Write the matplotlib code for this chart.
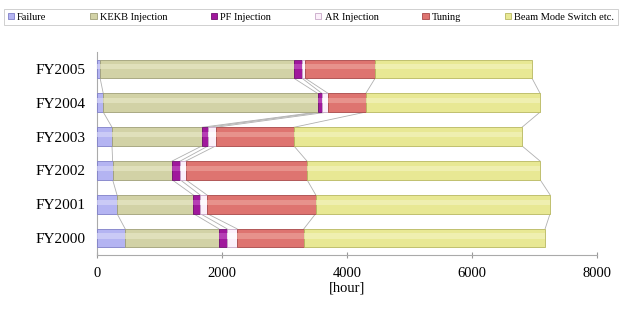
import numpy as np
import matplotlib.pyplot as plt
from matplotlib.patches import Patch

plt.rcParams['font.family'] = ['Liberation Serif', 'DejaVu Serif']

years = ["FY2000", "FY2001", "FY2002", "FY2003", "FY2004", "FY2005"]
series = ["Failure", "KEKB Injection", "PF Injection", "AR Injection", "Tuning", "Beam Mode Switch etc."]

# hours per category
failure = [450, 320, 250, 240, 100, 50]
kekb = [1500, 1220, 950, 1440, 3430, 3100]
pf = [130, 110, 130, 100, 70, 130]
ar = [160, 110, 90, 120, 100, 50]
tuning = [1070, 1740, 1940, 1250, 600, 1120]
beam = [3860, 3750, 3730, 3650, 2790, 2510]

values = [failure, kekb, pf, ar, tuning, beam]
colors = ["#b4b4f2", "#d2d2a6", "#a0189c", "#fbf0fa", "#de7470", "#e8e894"]
edges = ["#8080c8", "#a0a078", "#701070", "#c8a8c8", "#a84848", "#b8b860"]
highlight = ["#d4d4f8", "#e6e6c4", "#c050c0", "#ffffff", "#eca098", "#f2f2bc"]

fig = plt.figure(figsize=(6.19, 3.09), dpi=100)
ax = fig.add_axes([97 / 619, 54 / 309, 500 / 619, 203 / 309])

y = np.arange(len(years))
h = 0.55
left = np.zeros(len(years))
ends = []
for vals, c, ec, hc in zip(values, colors, edges, highlight):
    vals = np.array(vals, dtype=float)
    ax.barh(y, vals, left=left, height=h, color=c, edgecolor=ec, linewidth=0.6, zorder=3)
    # lighter stripe for the rounded look
    ax.barh(y + 0.06, vals, left=left, height=h * 0.28, color=hc, linewidth=0, zorder=4, alpha=0.7)
    left = left + vals
    ends.append(left.copy())

# series lines between neighbouring bars
for e in ends:
    for i in range(len(years) - 1):
        ax.plot([e[i], e[i + 1]], [y[i] + h / 2, y[i + 1] - h / 2],
                color="#b0b0b0", linewidth=0.6, zorder=2)

ax.set_xlim(0, 8000)
ax.set_ylim(-0.5, 5.5)
ax.set_xticks([0, 2000, 4000, 6000, 8000])
ax.set_yticks(y)
ax.set_yticklabels(years, fontsize=11)
ax.tick_params(axis="x", labelsize=10.5, direction="inout", length=5, color="#999999", pad=6)
ax.tick_params(axis="y", length=0, pad=8)
ax.set_xlabel("[hour]", fontsize=10.5, labelpad=1)

for s in ["top", "right"]:
    ax.spines[s].set_visible(False)
for s in ["left", "bottom"]:
    ax.spines[s].set_color("#aaaaaa")
    ax.spines[s].set_linewidth(0.8)

handles = [Patch(facecolor=c, edgecolor=ec, linewidth=0.6) for c, ec in zip(colors, edges)]
leg = fig.legend(handles, series, loc="upper left",
                 bbox_to_anchor=(4 / 619, 1 - 9 / 309, 614 / 619, 0), mode="expand",
                 ncol=6, fontsize=7.5, frameon=True, fancybox=False,
                 handlelength=0.6, handleheight=0.6, handletextpad=0.3, columnspacing=0.6,
                 borderpad=0.35, borderaxespad=0)
leg.get_frame().set_edgecolor("#bbbbbb")
leg.get_frame().set_linewidth(0.6)

fig.savefig("out.png", dpi=100)
